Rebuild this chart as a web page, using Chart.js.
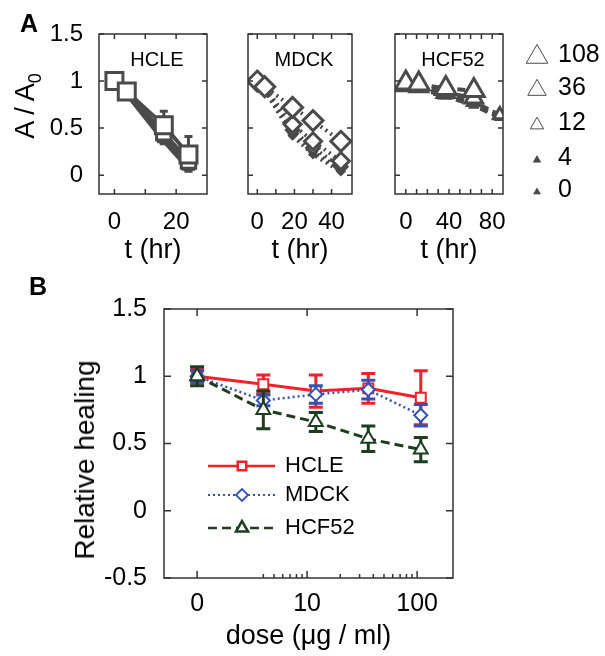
<!DOCTYPE html>
<html>
<head>
<meta charset="utf-8">
<script src="https://cdn.jsdelivr.net/npm/chart.js@4.4.1/dist/chart.umd.min.js"></script>
<style>
  body { margin: 0; background: #fff; }
  #fig { position: relative; width: 605px; height: 656px; overflow: hidden; font-family: "Liberation Sans", Arial, sans-serif; }
  canvas { position: absolute; }
  .panel { position: absolute; font-weight: bold; font-size: 25px; transform: translate(-50%, -50%); }
  .ytitle { position: absolute; font-size: 27px; white-space: nowrap; transform: translate(-50%, -50%) rotate(-90deg); }
  .ytitle sub { font-size: 18px; }
</style>
</head>
<body>
<div id="fig">
  <canvas id="aHcle" width="222" height="267" style="left:0;top:0"></canvas>
  <canvas id="aMdck" width="130" height="267" style="left:235px;top:0"></canvas>
  <canvas id="aHcf" width="225" height="267" style="left:380px;top:0"></canvas>
  <canvas id="bChart" width="605" height="386" style="left:0;top:270px"></canvas>
  <div class="panel" style="left:29px;top:23px">A</div>
  <div class="panel" style="left:38px;top:286px">B</div>
  <div class="ytitle" style="left:28px;top:106px">A / A<sub>0</sub></div>
  <div class="ytitle" style="left:85px;top:460px;font-size:28px">Relative healing</div>
</div>
<script>
// ---- панель A: площадь раны во времени, по дозам ----
const doseLevels = [108, 36, 12, 4, 0];

const hcleTimes = [0, 4, 16, 24];
const hcleArea = [
  [1.00, 0.89, 0.53, 0.22],
  [1.00, 0.88, 0.45, 0.15],
  [1.00, 0.87, 0.41, 0.12],
  [1.00, 0.86, 0.38, 0.09],
  [1.00, 0.86, 0.36, 0.07]
];
const hcleErrUp = [0, 0, 0.15, 0.19];   // усы только у дозы 108

const mdckTimes = [0, 4, 19, 30, 45];
const mdckArea = [
  [1.00, 0.94, 0.72, 0.58, 0.36],
  [1.00, 0.93, 0.54, 0.36, 0.15],
  [1.00, 0.92, 0.48, 0.29, 0.09],
  [1.00, 0.91, 0.44, 0.25, 0.06],
  [1.00, 0.90, 0.42, 0.22, 0.04]
];

const hcfTimes = [0, 12, 37, 63, 87];
const hcfArea = [
  [0.98, 0.97, 0.92, 0.90, null],
  [0.95, 0.94, 0.88, 0.82, null],
  [0.95, 0.93, 0.86, 0.78, 0.64],
  [0.94, 0.92, 0.85, 0.76, 0.62],
  [0.94, 0.92, 0.84, 0.74, 0.61]
];

const aYTicks = [0, 0.5, 1, 1.5];
const aYLabels = ['0', '0.5', '1', '1.5'];

// ---- панель B: относительное заживление от дозы ----
const bDoses = [0, 4, 12, 36, 108];
const bDosePos = bDoses.map(d => d === 0 ? 1 : d);  // доза 0 стоит на месте "1" лог-оси
const hcleHeal = [1.00, 0.94, 0.89, 0.91, 0.84];
const hcleHealErr = [0.05, 0.07, 0.12, 0.11, 0.20];
const mdckHeal = [1.00, 0.82, 0.865, 0.90, 0.71];
const mdckHealErr = [0.04, 0.04, 0.065, 0.07, 0.08];
const hcfHeal = [1.00, 0.75, 0.66, 0.535, 0.455];
const hcfHealErr = [0.07, 0.14, 0.07, 0.095, 0.09];

const bYTicks = [-0.5, 0, 0.5, 1, 1.5];
const bYLabels = ['-0.5', '0', '0.5', '1', '1.5'];
const bXTicks = [1, 10, 100];
const bXLabels = ['0', '10', '100'];
const bXMinor = [4, 5, 6, 7, 8, 9, 20, 30, 40, 50, 60, 70, 80, 90];

const grey = '#4a4a4a';
const red = '#ee2228';
const blue = '#3552b0';
const green = '#1c3d1e';
const sizeF = [1, 0.85, 0.62, 0.33, 0.3];

Chart.defaults.font.family = '"Liberation Sans", Arial, sans-serif';
Chart.defaults.color = '#000';
Chart.defaults.animation = false;

// рамка и короткие риски внутрь, как в матлабе
const framePlugin = {
  id: 'frame',
  afterDraw(chart, args, o) {
    const { ctx, chartArea: a } = chart;
    const xs = chart.scales.x, ys = chart.scales.y;
    ctx.save();
    ctx.strokeStyle = o.color;
    ctx.lineWidth = o.width;
    ctx.strokeRect(a.left, a.top, a.right - a.left, a.bottom - a.top);
    ctx.beginPath();
    xs.ticks.forEach(t => {
      const p = xs.getPixelForValue(t.value);
      ctx.moveTo(p, a.bottom); ctx.lineTo(p, a.bottom - o.len);
      ctx.moveTo(p, a.top); ctx.lineTo(p, a.top + o.len);
    });
    ys.ticks.forEach(t => {
      const p = ys.getPixelForValue(t.value);
      ctx.moveTo(a.left, p); ctx.lineTo(a.left + o.len, p);
      ctx.moveTo(a.right, p); ctx.lineTo(a.right - o.len, p);
    });
    (o.minorX || []).forEach(v => {
      const p = xs.getPixelForValue(v);
      ctx.moveTo(p, a.bottom); ctx.lineTo(p, a.bottom - o.minorLen);
    });
    ctx.stroke();
    ctx.restore();
  }
};

// усы погрешностей, рисуются под своим набором данных
const errPlugin = {
  id: 'errBars',
  beforeDatasetDraw(chart, args, o) {
    const set = (o.sets || []).find(s => s.index === args.index);
    if (!set) return;
    const { ctx } = chart;
    const xs = chart.scales.x, ys = chart.scales.y;
    const ds = chart.data.datasets[args.index];
    ctx.save();
    ctx.strokeStyle = set.color;
    ctx.lineWidth = set.width;
    ctx.beginPath();
    ds.data.forEach((pt, i) => {
      const e = set.err[i];
      if (!e || pt.y == null) return;
      const px = xs.getPixelForValue(pt.x);
      const top = ys.getPixelForValue(pt.y + e);
      const bot = set.upOnly ? ys.getPixelForValue(pt.y) : ys.getPixelForValue(pt.y - e);
      ctx.moveTo(px, top); ctx.lineTo(px, bot);
      ctx.moveTo(px - set.cap, top); ctx.lineTo(px + set.cap, top);
      if (!set.upOnly) { ctx.moveTo(px - set.cap, bot); ctx.lineTo(px + set.cap, bot); }
    });
    ctx.stroke();
    ctx.restore();
  }
};

// подпись линии клеток внутри рамки
const namePlugin = {
  id: 'panelName',
  afterDraw(chart, args, o) {
    if (!o.text) return;
    const { ctx, chartArea: a } = chart;
    ctx.save();
    ctx.font = '20px "Liberation Sans", Arial, sans-serif';
    ctx.fillStyle = '#000';
    ctx.textAlign = 'center';
    ctx.textBaseline = 'middle';
    ctx.fillText(o.text, (a.left + a.right) / 2 + 4, a.top + 26);
    ctx.restore();
  }
};

// легенда доз (треугольники разного размера) справа от HCF52
const doseLegend = {
  id: 'doseLegend',
  afterDraw(chart, args, o) {
    if (!o.show) return;
    const { ctx } = chart;
    const rows = [55, 88, 123, 158, 190];
    ctx.save();
    doseLevels.forEach((d, k) => {
      ctx.strokeStyle = grey;
      ctx.fillStyle = k < 3 ? '#fff' : grey;
      Chart.helpers.drawPoint(ctx, { pointStyle: 'triangle', radius: 12.5 * sizeF[k], borderWidth: 2.5, rotation: 0 }, 157, rows[k] + 2);
      ctx.font = '25px "Liberation Sans", Arial, sans-serif';
      ctx.fillStyle = '#000';
      ctx.textAlign = 'left';
      ctx.textBaseline = 'middle';
      ctx.fillText(String(d), 178, rows[k]);
    });
    ctx.restore();
  }
};

function panelA(id, name, times, rows, xMin, xMax, xTicks, xLabels, shape, baseR, dash, opts) {
  const datasets = doseLevels.map((d, k) => ({
    label: String(d),
    data: times.map((t, i) => ({ x: t, y: rows[k][i] })),
    borderColor: grey,
    borderWidth: 4,
    borderDash: dash,
    pointStyle: shape,
    pointRadius: baseR * sizeF[k],
    pointBorderWidth: 3,
    pointBorderColor: grey,
    pointBackgroundColor: k < 3 ? '#fff' : grey,
    spanGaps: false,
    fill: false,
    tension: 0
  }));
  new Chart(document.getElementById(id), {
    type: 'line',
    data: { datasets },
    options: {
      responsive: false,
      devicePixelRatio: 1,
      layout: { padding: { top: 34, right: opts.padR, left: 0, bottom: 0 } },
      scales: {
        x: {
          type: 'linear', min: xMin, max: xMax,
          grid: { display: false }, border: { display: false },
          afterBuildTicks: s => { s.ticks = xTicks.map(v => ({ value: v })); },
          afterFit: s => { s.height = 73; },
          ticks: {
            autoSkip: false, maxRotation: 0, padding: 6, font: { size: 24 }, color: '#000',
            callback: v => xLabels[xTicks.indexOf(v)] || ''
          },
          title: { display: true, text: 't (hr)', font: { size: 27 }, padding: 0, color: '#000' }
        },
        y: {
          type: 'linear', min: -0.2, max: 1.5,
          grid: { display: false }, border: { display: false },
          afterBuildTicks: s => { s.ticks = aYTicks.map(v => ({ value: v })); },
          afterFit: s => { s.width = opts.yW; },
          ticks: {
            display: opts.showY, padding: 8, font: { size: 24 }, color: '#000',
            callback: v => aYLabels[aYTicks.indexOf(v)]
          }
        }
      },
      plugins: {
        legend: { display: false },
        tooltip: { enabled: false },
        frame: { color: '#333', width: 1.5, len: 5 },
        errBars: { sets: opts.err || [] },
        panelName: { text: name },
        doseLegend: { show: !!opts.legend }
      }
    },
    plugins: [framePlugin, errPlugin, namePlugin, doseLegend]
  });
}

panelA('aHcle', 'HCLE', hcleTimes, hcleArea, -5, 30, [0, 10, 20], ['0', '', '20'], 'rect', 12, [],
  { padR: 7, yW: 99, showY: true,
    err: [{ index: 0, err: hcleErrUp, upOnly: true, color: grey, width: 3, cap: 4 }] });
panelA('aMdck', 'MDCK', mdckTimes, mdckArea, -5, 51, [0, 10, 20, 30, 40], ['0', '', '20', '', '40'], 'rectRot', 10, [2, 4],
  { padR: 5, yW: 8, showY: false });
panelA('aHcf', 'HCF52', hcfTimes, hcfArea, -10, 90, [0, 10, 20, 30, 40, 50, 60, 70, 80], ['0', '', '', '', '40', '', '', '', '80'], 'triangle', 12, [8, 5],
  { padR: 102, yW: 7, showY: false, legend: true });

// ---- панель B ----
const bSeries = [
  { name: 'HCLE', vals: hcleHeal, err: hcleHealErr, color: red, style: 'rect', r: 7, dash: [], lw: 3, order: 3 },
  { name: 'MDCK', vals: mdckHeal, err: mdckHealErr, color: blue, style: 'rectRot', r: 6.5, dash: [2, 3], lw: 2.5, order: 2 },
  { name: 'HCF52', vals: hcfHeal, err: hcfHealErr, color: green, style: 'triangle', r: 8, dash: [9, 5], lw: 3, order: 1 }
];

const bLegend = {
  id: 'bLegend',
  afterDraw(chart) {
    const { ctx } = chart;
    const rows = [196, 225, 258];
    ctx.save();
    bSeries.forEach((s, k) => {
      const y = rows[k];
      ctx.strokeStyle = s.color;
      ctx.lineWidth = k === 1 ? 1.8 : 2.5;
      ctx.setLineDash(s.dash);
      ctx.beginPath(); ctx.moveTo(208, y); ctx.lineTo(275, y); ctx.stroke();
      ctx.setLineDash([]);
      ctx.fillStyle = '#fff';
      Chart.helpers.drawPoint(ctx, { pointStyle: s.style, radius: k === 2 ? 7 : 6, borderWidth: 1.5, rotation: 0 }, 242, y);
      ctx.font = '22px "Liberation Sans", Arial, sans-serif';
      ctx.fillStyle = '#000';
      ctx.textAlign = 'left';
      ctx.textBaseline = 'middle';
      ctx.fillText(s.name, 285, y);
    });
    ctx.restore();
  }
};

new Chart(document.getElementById('bChart'), {
  type: 'line',
  data: {
    datasets: bSeries.map(s => ({
      label: s.name,
      data: bDosePos.map((x, i) => ({ x: x, y: s.vals[i] })),
      borderColor: s.color,
      borderWidth: s.lw,
      borderDash: s.dash,
      pointStyle: s.style,
      pointRadius: s.r,
      pointBorderWidth: 2,
      pointBorderColor: s.color,
      pointBackgroundColor: '#fff',
      order: s.order,
      fill: false,
      tension: 0
    }))
  },
  options: {
    responsive: false,
    devicePixelRatio: 1,
    layout: { padding: { top: 39, right: 152, left: 0, bottom: 0 } },
    scales: {
      x: {
        type: 'logarithmic', min: 0.5, max: 212,
        grid: { display: false }, border: { display: false },
        afterBuildTicks: s => { s.ticks = bXTicks.map(v => ({ value: v })); },
        afterFit: s => { s.height = 78; },
        ticks: {
          autoSkip: false, maxRotation: 0, padding: 3, font: { size: 25 }, color: '#000',
          callback: v => bXLabels[bXTicks.indexOf(v)] || ''
        },
        title: { display: true, text: 'dose (μg / ml)', font: { size: 27 }, padding: 3, color: '#000' }
      },
      y: {
        type: 'linear', min: -0.5, max: 1.5,
        grid: { display: false }, border: { display: false },
        afterBuildTicks: s => { s.ticks = bYTicks.map(v => ({ value: v })); },
        afterFit: s => { s.width = 164; },
        ticks: {
          padding: 9, font: { size: 25 }, color: '#000',
          callback: v => bYLabels[bYTicks.indexOf(v)]
        }
      }
    },
    plugins: {
      legend: { display: false },
      tooltip: { enabled: false },
      frame: { color: '#333', width: 1.5, len: 7, minorX: bXMinor, minorLen: 4 },
      errBars: {
        sets: bSeries.map((s, k) => ({ index: k, err: s.err, color: s.color, width: 3, cap: 7 }))
      }
    }
  },
  plugins: [framePlugin, errPlugin, bLegend]
});
</script>
</body>
</html>
